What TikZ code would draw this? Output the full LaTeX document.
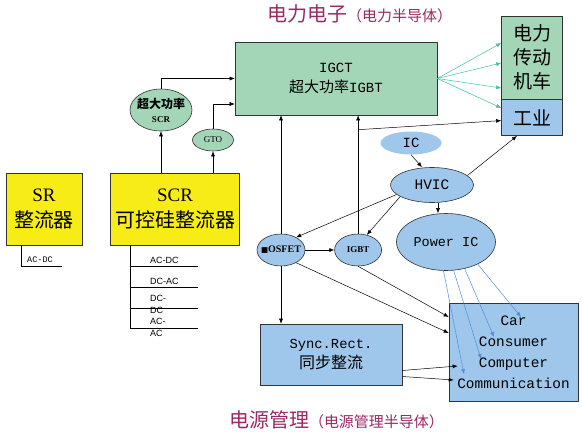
\documentclass[tikz,border=0pt]{standalone}
\usepackage{fontspec}
\setmainfont{Liberation Serif}
\setsansfont{Liberation Sans}
\setmonofont{Liberation Mono}
\newfontfamily\cjk{Noto Sans CJK SC}
\newfontfamily\sym{DejaVu Sans}
\usetikzlibrary{arrows.meta,positioning,shapes.geometric}
\newcommand{\fsz}[2]{\fontsize{#1}{#2}\selectfont}
\definecolor{yfill}{RGB}{247,236,22}
\definecolor{gfill}{RGB}{163,214,183}
\definecolor{bfill}{RGB}{158,199,235}
\definecolor{gline}{RGB}{60,195,150}
\definecolor{bline}{RGB}{85,140,215}
\definecolor{tcol}{RGB}{153,40,100}

\begin{document}
\begin{tikzpicture}[
    x=1pt,y=-1pt, % pixel units, y downwards
    box/.style={draw=black!80,line width=0.6pt,inner sep=0pt,align=center},
    ell/.style={ellipse,draw=black!80,fill=bfill,line width=0.6pt,inner sep=0pt,align=center},
    arrow/.style={-{Latex[length=5pt,width=4pt]},line width=0.5pt},
    garrow/.style={arrow,color=gline},
    barrow/.style={arrow,color=bline},
    title/.style={text=tcol,inner sep=0pt},
    listline/.style={line width=0.5pt},
    lbl/.style={inner sep=0pt,anchor=west,align=left,font=\sffamily\fsz{9}{12}}
]
\useasboundingbox (0,0) rectangle (582,434);

% Titles
\node[title] (top) at (359.5,14) {{\cjk\fsz{20}{20}电力电子}{\cjk\fsz{15}{15}（电力半导体）}};
\node[title] (bottom) at (336.5,420) {{\cjk\fsz{20}{20}电源管理}{\cjk\fsz{15}{15}（电源管理半导体）}};

% Power electronics
\node[box,fill=gfill,minimum width=202pt,minimum height=73pt,font=\fsz{14}{20}] (igct) at (336,78.5)
    {\ttfamily IGCT\\{\cjk\fsz{15}{20}超大功率}\ttfamily IGBT};
\node[box,fill=gfill,minimum width=61pt,minimum height=83pt,font=\cjk\fsz{19}{24}] (drive) at (532,57.5) {电力\\传动\\机车};
\node[box,fill=bfill,minimum width=61pt,minimum height=36pt,font=\cjk\fsz{19}{24}] (ind) [below=0pt of drive] {工业};

% Rectifiers
\node[box,fill=yfill,minimum width=76pt,minimum height=72pt,font=\fsz{19}{26}] (sr) at (44,209) {SR\\{\cjk\fsz{20}{26}整流器}};
\node[box,fill=yfill,minimum width=129pt,minimum height=72pt,font=\fsz{19}{26}] (scr) [right=28pt of sr] {SCR\\{\cjk\fsz{20}{26}可控硅整流器}};

% Devices
\node[ell,fill=gfill,minimum width=62pt,minimum height=42pt,inner sep=-3pt,font=\bfseries\fsz{9}{14}] (hscr) at (161,110) {{\cjk\fsz{12}{14}超大功率}\\SCR};
\node[ell,fill=gfill,minimum width=41pt,minimum height=22pt,font=\fsz{9}{10}] (gto) at (213,140) {GTO};
\node[ell,minimum width=48pt,minimum height=32pt,inner xsep=-4pt,font=\bfseries\fsz{10}{10}] (mosfet) at (281,250) {{\sym\fsz{7.5}{10}■}OSFET};
\node[ell,minimum width=47pt,minimum height=32pt,font=\bfseries\fsz{9}{10}] (igbt) [right=29pt of mosfet] {IGBT};
\node[ell,draw=none,minimum width=61pt,minimum height=23pt,font=\ttfamily\fsz{14}{16}] (ic) at (411,143) {IC};
\node[ell,minimum width=83pt,minimum height=35pt,font=\ttfamily\fsz{14.5}{16}] (hvic) at (432,185) {HVIC};
\node[ell,minimum width=99pt,minimum height=57pt,font=\ttfamily\fsz{13.5}{16}] (pic) at (446,242) {Power IC};

% Power management
\node[box,fill=bfill,minimum width=142pt,minimum height=61pt,font=\ttfamily\fsz{13.8}{20}] (sync) at (331,354.5) {Sync.Rect.\\{\cjk\fsz{16}{20}同步整流}};
\node[box,fill=bfill,minimum width=129pt,minimum height=98pt,font=\ttfamily\fsz{14.4}{21}] (apps) at (513.5,352) {Car\\Consumer\\Computer\\Communication};

% Conversion lists
\coordinate (srl) at (21,266);
\draw[listline] (srl |- sr.south) -- (srl) -- ++(41,0);
\node[lbl,font=\ttfamily\fsz{8.5}{10}] (srac) at (27,260) {AC-DC};
\coordinate (scrl) at (130,328);
\draw[listline] (scrl |- scr.south) -- (scrl);
\foreach \y in {266,287,308,328}
    \draw[listline] (130,\y) -- ++(68,0);
\node[lbl] (acdc) at (150,260) {AC-DC};
\node[lbl] (dcac) at (150,281) {DC-AC};
\node[lbl] (dcdc) at (150,304) {DC-\\DC};
\node[lbl] (acac) at (150,327.5) {AC-\\AC};

% SCR branch
\draw[arrow] (scr.north -| hscr) -- (hscr);
\draw[arrow] (scr.north -| gto) -- (gto);
\draw[arrow] (hscr.north) |- (igct.west);
\draw[arrow] (gto.north) |- ([yshift=-25.5pt]igct.west);

% Into IGCT and applications
\draw[arrow] (mosfet.north) -- (mosfet.north |- igct.south);
\draw[arrow] (igbt.north) -- (igbt.north |- igct.south);
\coordinate (tap) at ([yshift=104pt]igbt.north);
\draw[arrow] (tap) -- ([yshift=-3pt]ind.west);
\foreach \s in {14.5,-5.5,-30.5,-50.5}
    \draw[garrow] (igct.east) -- ([yshift=\s pt]drive.west);

% IC chain
\draw[arrow] (ic.south) -- ([xshift=-10pt]hvic.north);
\draw[arrow] ([xshift=6pt]hvic.south) -- ([xshift=-8pt]pic.north);
\draw[arrow] (hvic.15) -- ([xshift=-15pt]ind.south);
\draw[arrow] (hvic.195) -- (mosfet.40);
\draw[arrow] (hvic.200) -- (igbt.60);
\draw[arrow] (mosfet) -- (igbt);
\draw[arrow] (mosfet.south) -- (sync.north -| mosfet);
\draw[arrow] (mosfet.320) -- ([yshift=19pt]apps.west);
\draw[arrow] (igbt.south) -- ([yshift=35pt]apps.west);
\draw[arrow] ([yshift=-16pt]sync.east) -- ([xshift=9pt,yshift=-14pt]apps.west);
\draw[arrow] ([yshift=-22pt]sync.east) -- ([xshift=5pt,yshift=-28pt]apps.west);

% Power IC to markets
\foreach \a/\dx/\dy in {265/-49.5/22, 285/-32.5/7, 305/-19.5/-15, 325/7.5/-35}
    \draw[barrow] (pic.\a) -- ([shift={(\dx,\dy)}]apps.center);

\end{tikzpicture}
\end{document}
